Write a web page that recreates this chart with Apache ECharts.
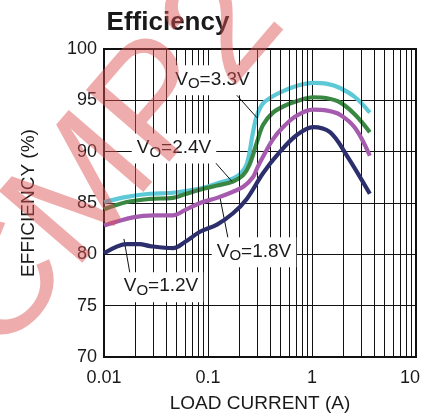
<!DOCTYPE html>
<html>
<head>
<meta charset="utf-8">
<script src="https://cdn.jsdelivr.net/npm/echarts@6/dist/echarts.min.js"></script>
<style>html,body{margin:0;padding:0;background:#fff}#c{width:423px;height:418px}</style>
</head>
<body>
<div id="c"></div>
<script>
// ---- data ----
var titleText = 'Efficiency';
var xName = 'LOAD CURRENT (A)';
var yName = 'EFFICIENCY (%)';
var xTickLabels = ['0.01', '0.1', '1', '10'];
var yTicks = [70, 75, 80, 85, 90, 95, 100];

var vo33 = [[0.01,85.1],[0.0166,85.6],[0.0277,85.9],[0.046,86.0],[0.0837,86.4],[0.122,86.9],[0.174,87.4],[0.203,87.8],[0.236,88.8],[0.271,91.9],[0.295,93.5],[0.338,94.7],[0.421,95.4],[0.528,95.9],[0.71,96.4],[1.02,96.7],[1.4,96.6],[1.86,96.2],[2.6,95.3],[3.6,93.8]];
var vo24 = [[0.01,84.4],[0.0166,85.1],[0.0277,85.4],[0.046,85.5],[0.0577,85.8],[0.0837,86.3],[0.122,86.7],[0.174,87.1],[0.217,87.7],[0.25,88.7],[0.295,90.9],[0.338,92.6],[0.421,93.8],[0.528,94.4],[0.71,94.9],[1.02,95.3],[1.4,95.2],[1.86,94.8],[2.6,93.6],[3.6,91.9]];
var vo18 = [[0.01,82.8],[0.019,83.6],[0.03,83.8],[0.046,83.8],[0.06,84.3],[0.0837,85.0],[0.122,85.5],[0.174,86.1],[0.22,86.6],[0.27,87.5],[0.3,88.5],[0.338,89.5],[0.421,91.2],[0.528,92.4],[0.71,93.5],[1.02,94.1],[1.4,94.0],[1.86,93.6],[2.6,92.3],[3.6,89.6]];
var vo12 = [[0.01,80.1],[0.0166,81.0],[0.022,81.0],[0.0277,80.8],[0.046,80.6],[0.06,81.2],[0.0837,82.2],[0.122,82.9],[0.174,84.0],[0.236,85.4],[0.338,87.9],[0.493,90.0],[0.71,91.6],[1.02,92.4],[1.49,91.9],[2.17,89.6],[3.6,85.9]];

var seriesNames = ['3.3V', '2.4V', '1.8V', '1.2V'];
// label anchor [x, y] and leader line [[x1,y1],[x2,y2]] in data units
var labelPos = [[0.1104, 96.95], [0.0471, 90.3], [0.2767, 80.2], [0.0353, 76.8]];
var leaders = [
  [[0.159, 96.35], [0.296, 93.3]],
  [[0.0935, 90.08], [0.170, 87.1]],
  [[0.1556, 81.6], [0.130, 85.6]],
  [[0.01778, 78.1], [0.01556, 81.5]]
];
var watermarkText = 'CMP2';

// ---- chart ----
var colors = ['#5ec9d6', '#3a8744', '#a65cae', '#2c2f6c'];
var seriesData = [vo33, vo24, vo18, vo12];
var FONT = '"Liberation Sans", Arial, Helvetica, sans-serif';

var minorLines = [];
[0.01, 0.1, 1].forEach(function (d) {
  for (var k = 2; k <= 9; k++) minorLines.push({ xAxis: +(d * k).toPrecision(3) });
});

var chart = echarts.init(document.getElementById('c'), null, { renderer: 'canvas' });

var series = [{
  type: 'line', data: [], z: 1, silent: true,
  markLine: {
    silent: true, symbol: ['none', 'none'], animation: false,
    label: { show: false },
    lineStyle: { color: '#111', width: 1, type: 'solid' },
    emphasis: { disabled: true },
    data: minorLines
  }
}];

seriesData.forEach(function (d, i) {
  series.push({
    type: 'line', name: seriesNames[i], data: d, z: 3 + i,
    smooth: 0.35, showSymbol: false, symbol: 'none',
    lineStyle: { color: colors[i], width: 4.2 },
    itemStyle: { color: colors[i] },
    markLine: {
      silent: true, symbol: ['none', 'none'], animation: false,
      label: { show: false },
      lineStyle: { color: '#111', width: 1, type: 'solid' },
      emphasis: { disabled: true },
      data: [[{ coord: leaders[i][0] }, { coord: leaders[i][1] }]]
    },
    markPoint: {
      silent: true, animation: false, symbol: 'rect', symbolSize: 1,
      itemStyle: { color: 'rgba(0,0,0,0)' },
      data: [{ coord: labelPos[i] }],
      label: {
        show: true, position: 'inside',
        formatter: '{v|V}{s|O}{v|=' + seriesNames[i] + '}',
        backgroundColor: '#fff', padding: [1, 5, 3, 5],
        rich: {
          v: { fontSize: 19, fontFamily: FONT, color: '#1a1a1a', lineHeight: 26 },
          s: { fontSize: 15, fontFamily: FONT, color: '#1a1a1a', lineHeight: 15, padding: [10, 0, 0, 0] }
        }
      }
    }
  });
});

chart.setOption({
  animation: false,
  backgroundColor: '#fff',
  title: {
    text: titleText, left: 163, top: 5, textAlign: 'center',
    textStyle: { fontSize: 26, fontWeight: 'bold', fontFamily: FONT, color: '#1a1a1a' }
  },
  grid: { left: 104, right: 7, top: 49, bottom: 58, show: true, borderColor: '#111', borderWidth: 2, backgroundColor: 'transparent' },
  xAxis: {
    type: 'log', logBase: 10, min: 0.01, max: 10,
    name: xName, nameLocation: 'middle', nameGap: 37,
    nameTextStyle: { fontSize: 19, fontFamily: FONT, color: '#1a1a1a' },
    axisLine: { show: true, lineStyle: { color: '#111', width: 2 } },
    axisTick: { show: false },
    minorTick: { show: false },
    splitLine: { show: true, lineStyle: { color: '#111', width: 1 } },
    axisLabel: {
      margin: 12, fontSize: 18, fontFamily: FONT, color: '#1a1a1a',
      formatter: function (v) {
        for (var i = 0; i < xTickLabels.length; i++) {
          if (Math.abs(Math.log10(+xTickLabels[i]) - Math.log10(v)) < 1e-6) {
            return i === xTickLabels.length - 1 ? '{r|' + xTickLabels[i] + '}' : xTickLabels[i];
          }
        }
        return '';
      },
      rich: { r: { fontSize: 18, fontFamily: FONT, color: '#1a1a1a', padding: [0, 12, 0, 0] } }
    }
  },
  yAxis: {
    type: 'value', min: yTicks[0], max: yTicks[yTicks.length - 1], interval: 5,
    name: yName, nameLocation: 'middle', nameGap: 66, nameRotate: 90,
    nameTextStyle: { fontSize: 19, fontFamily: FONT, color: '#1a1a1a' },
    axisLine: { show: true, lineStyle: { color: '#111', width: 2 } },
    axisTick: { show: false },
    splitLine: { show: true, lineStyle: { color: '#111', width: 1 } },
    axisLabel: { margin: 7, fontSize: 18, fontFamily: FONT, color: '#1a1a1a' }
  },
  graphic: [{
    type: 'text', x: 110, y: 163, rotation: 0.86, z: 100, silent: true,
    style: {
      text: watermarkText, font: '160px ' + FONT,
      fill: 'rgba(222,82,82,0.48)', align: 'center', verticalAlign: 'middle'
    }
  }],
  series: series
});
</script>
</body>
</html>
